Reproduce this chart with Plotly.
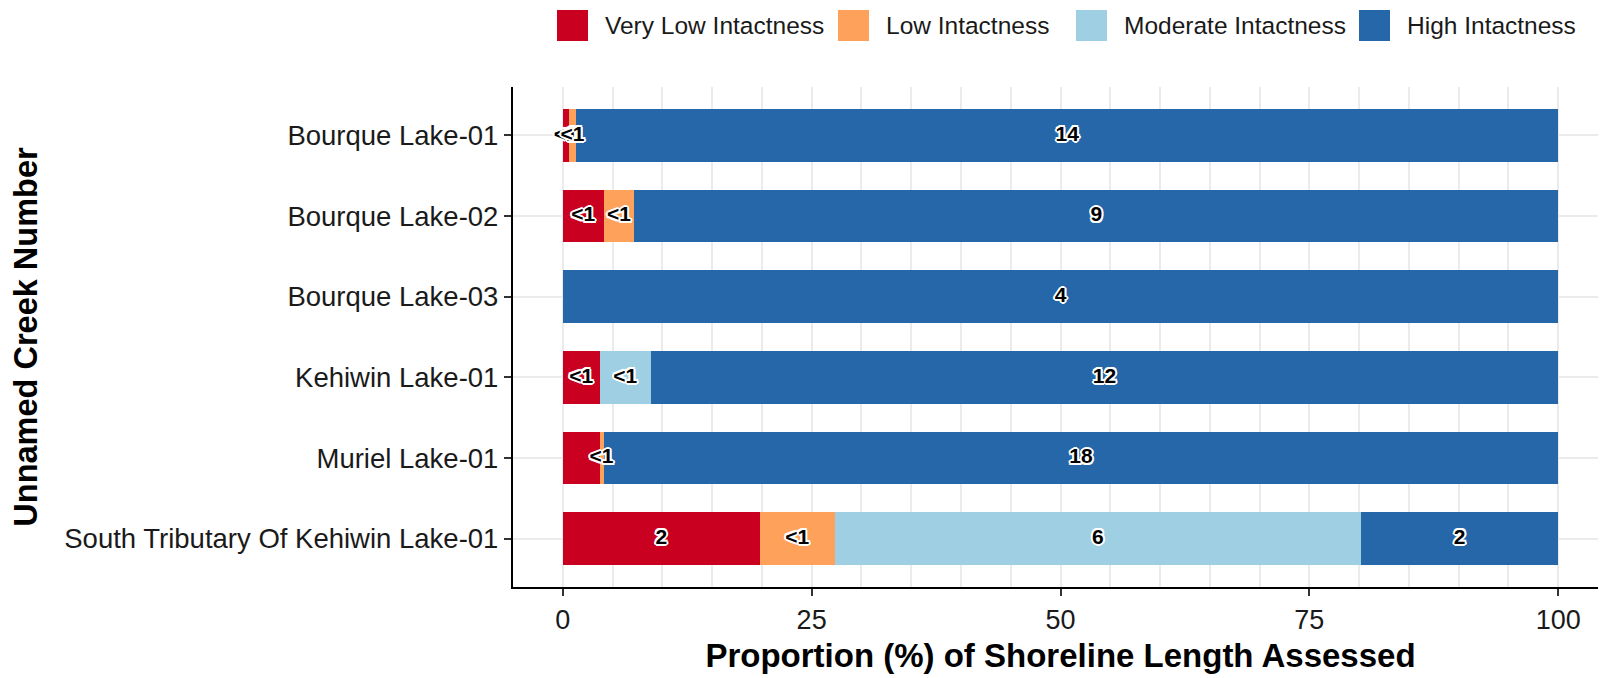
import plotly.graph_objects as go
import numpy as np

# ---------------- data ----------------
categories = ["Bourque Lake-01", "Bourque Lake-02", "Bourque Lake-03",
              "Kehiwin Lake-01", "Muriel Lake-01",
              "South Tributary Of Kehiwin Lake-01"]
series_names = ["Very Low Intactness", "Low Intactness",
                "Moderate Intactness", "High Intactness"]

very_low = [0.6, 4.1, 0.0, 3.7, 3.7, 19.8]
low = [0.75, 3.1, 0.0, 0.0, 0.4, 7.5]
moderate = [0.0, 0.0, 0.0, 5.15, 0.0, 52.9]
high = [98.65, 92.8, 100.0, 91.15, 95.9, 19.8]

very_low_labels = ["<1", "<1", "", "<1", "", "2"]
low_labels = ["<1", "<1", "", "", "<1", "<1"]
moderate_labels = ["", "", "", "<1", "", "6"]
high_labels = ["14", "9", "4", "12", "18", "2"]

x_tick_vals = [0, 25, 50, 75, 100]
x_tick_text = ["0", "25", "50", "75", "100"]

# ---------------- style ----------------
colors = ["#CA0020", "#FDA15B", "#9ECFE3", "#2567A9"]
FONT = "Liberation Sans, Arial, Helvetica, sans-serif"
W, H = 1606, 678
ML, MR, MT, MB = 505, 6, 79, 99
plot_w = W - ML - MR
plot_h = H - MT - MB

values = [very_low, low, moderate, high]
labels = [very_low_labels, low_labels, moderate_labels, high_labels]

fig = go.Figure()

for name, vals, col in zip(series_names, values, colors):
    fig.add_trace(go.Bar(
        y=categories, x=vals, name=name, orientation="h",
        marker=dict(color=col, line=dict(width=0)),
        width=0.65, showlegend=False, hoverinfo="x+y+name",
    ))

# segment label positions (centre of each stacked segment)
arr = np.array(values, dtype=float)
starts = np.vstack([np.zeros(arr.shape[1]), np.cumsum(arr, axis=0)[:-1]])
centers = starts + arr / 2.0

halo = ("2px 0 0 white, -2px 0 0 white, 0 2px 0 white, 0 -2px 0 white, "
        "1.4px 1.4px 0 white, -1.4px -1.4px 0 white, 1.4px -1.4px 0 white, "
        "-1.4px 1.4px 0 white")
for i in range(len(series_names)):
    fig.add_trace(go.Scatter(
        x=centers[i], y=categories, text=labels[i], mode="text",
        textposition="middle center",
        textfont=dict(family=FONT, size=21, color="black", weight="bold",
                      shadow=halo),
        showlegend=False, hoverinfo="skip",
    ))

# ---------------- manual legend ----------------
key_px = [549, 830, 1068, 1351]
key_size = 31
key_top, key_bottom = 2, 33
def px_to_paper_x(px):
    return (px - ML) / plot_w
def py_to_paper_y(py):
    return (H - MB - py) / plot_h

shapes = []
annotations = []
for kx, name, col in zip(key_px, series_names, colors):
    shapes.append(dict(
        type="rect", xref="paper", yref="paper",
        x0=px_to_paper_x(kx), x1=px_to_paper_x(kx + key_size),
        y0=py_to_paper_y(key_bottom), y1=py_to_paper_y(key_top),
        fillcolor=col, line=dict(width=0), layer="above",
    ))
    annotations.append(dict(
        xref="paper", yref="paper",
        x=px_to_paper_x(kx + key_size + 15), y=py_to_paper_y(18),
        xanchor="left", yanchor="middle", showarrow=False,
        text=name, font=dict(family=FONT, size=24.5, color="#1A1A1A"),
    ))

GRID = "#EBEBEB"
fig.update_layout(
    width=W, height=H,
    margin=dict(l=ML, r=MR, t=MT, b=MB, autoexpand=False),
    barmode="stack",
    plot_bgcolor="white", paper_bgcolor="white",
    font=dict(family=FONT, color="#1A1A1A"),
    shapes=shapes, annotations=annotations,
    xaxis=dict(
        range=[-5, 105], tickvals=x_tick_vals, ticktext=x_tick_text,
        showgrid=True, gridcolor=GRID, gridwidth=1.6,
        minor=dict(dtick=5, tick0=0, showgrid=True, gridcolor=GRID,
                   gridwidth=1.6, ticks=""),
        showline=True, linecolor="black", linewidth=2.2,
        ticks="outside", ticklen=7, tickwidth=2, tickcolor="#333333",
        tickfont=dict(family=FONT, size=27, color="#1A1A1A"),
        zeroline=False, automargin=False,
        title=dict(text="Proportion (%) of Shoreline Length Assessed",
                   font=dict(family=FONT, size=33, color="black", weight="bold"),
                   standoff=10),
    ),
    yaxis=dict(
        type="category", categoryarray=categories, range=[5.6, -0.6],
        showgrid=True, gridcolor=GRID, gridwidth=1.6,
        showline=True, linecolor="black", linewidth=2.2,
        ticks="outside", ticklen=7, tickwidth=2, tickcolor="#333333",
        tickfont=dict(family=FONT, size=27.5, color="#1A1A1A"),
        zeroline=False, automargin=False,
        title=dict(text="Unnamed Creek Number",
                   font=dict(family=FONT, size=32.5, color="black", weight="bold"),
                   standoff=33),
    ),
)

fig.write_html("out.html")
